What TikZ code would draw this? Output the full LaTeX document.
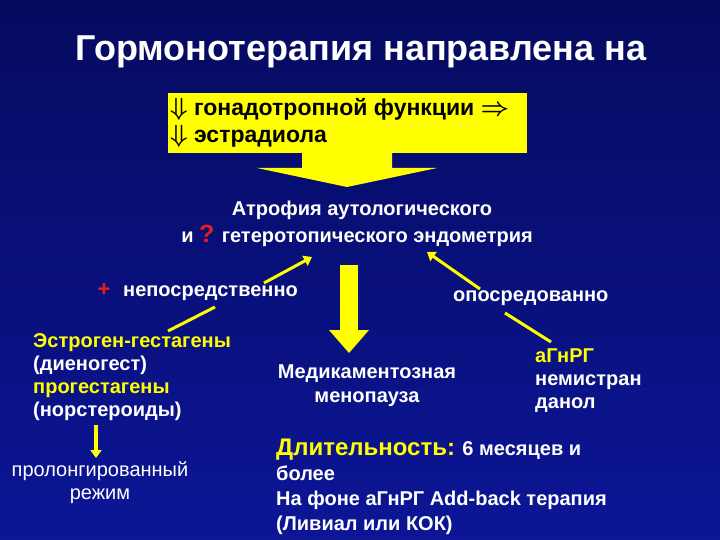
\documentclass[tikz,border=0pt]{standalone}
\usepackage{fontspec}
\setmainfont{Liberation Sans}
\usetikzlibrary{arrows.meta}
\definecolor{bg}{RGB}{12,22,150}
\definecolor{bgd}{RGB}{5,10,95}
\definecolor{yel}{RGB}{255,255,0}
\definecolor{redq}{RGB}{230,30,30}
\begin{document}
\begin{tikzpicture}[x=1pt,y=-1pt,
  txt/.style={text=white,font=\bfseries\fontsize{20}{23}\selectfont,inner sep=0pt},
  ylink/.style={draw=yel,line width=3pt},
  yarr/.style={ylink,-{Triangle[length=8pt,width=11pt]}}]
\useasboundingbox (0,0) rectangle (720,540);
\shade[top color=bgd,bottom color=bg] (0,0) rectangle (720,540);
\node[text=white,font=\bfseries\fontsize{36}{40}\selectfont] (title) at (361,52) {Гормонотерапия направлена на};
\node[fill=yel,minimum width=359pt,minimum height=60pt,inner sep=0pt] (box) at (347.5,123) {};
\node[anchor=west,font=\boldmath\bfseries\fontsize{23}{27}\selectfont,align=left,inner sep=0pt] (boxt) at (170,123) {$\Downarrow$ гонадотропной функции $\Rightarrow$\\ $\Downarrow$ эстрадиола};
\fill[yel] (302,152) -- (392,152) -- (392,168) -- (437,168) -- (347,187) -- (257,168) -- (302,168) -- cycle;
\node[txt] (atr1) at (362,210) {Атрофия аутологического};
\node[txt] (atr2) at (357,236) {и {\color{redq}\fontsize{25}{25}\selectfont ?} гетеротопического эндометрия};
\coordinate (a1) at (312,257);
\coordinate (a2) at (427,252);
\node[txt,anchor=west] (nep) at (123,293) {непосредственно};
\node[text=redq,font=\bfseries\fontsize{22}{22}\selectfont,inner sep=0pt] (plus) at (104,290) {+};
\node[txt,anchor=west] (opo) at (453,298) {опосредованно};
\draw[yarr] (264,283) -- (a1);
\draw[yarr] (480,289) -- (a2);
\fill[yel] (340,265) rectangle (358,330);
\fill[yel] (329,330) -- (369,330) -- (349,353) -- cycle;
\node[txt,anchor=north west,align=left] (left) at (33,333) {{\color{yel}Эстроген-гестагены}\\(диеногест)\\{\color{yel}прогестагены}\\(норстероиды)};
\draw[ylink] (215,307) -- (168,331);
\draw[yarr,line width=3.5pt] (96,425) -- (96,458);
\node[txt,align=center,font=\fontsize{20}{23}\selectfont] (prol) at (100,483) {пролонгированный\\режим};
\node[txt,align=center,font=\bfseries\fontsize{20}{24}\selectfont] (med) at (367,386) {Медикаментозная\\менопауза};
\node[txt,anchor=north west,align=left] (ag) at (535,349) {{\color{yel}аГнРГ}\\немистран\\данол};
\draw[ylink] (505,313) -- (551,342);
\node[txt,anchor=north west,align=left] (dl) at (276,439) {{\color{yel}\fontsize{24}{24}\selectfont Длительность:} 6 месяцев и\\[2pt]более\\[2pt]На фоне аГнРГ Add-back терапия\\[2pt](Ливиал или КОК)};
\end{tikzpicture}
\end{document}
